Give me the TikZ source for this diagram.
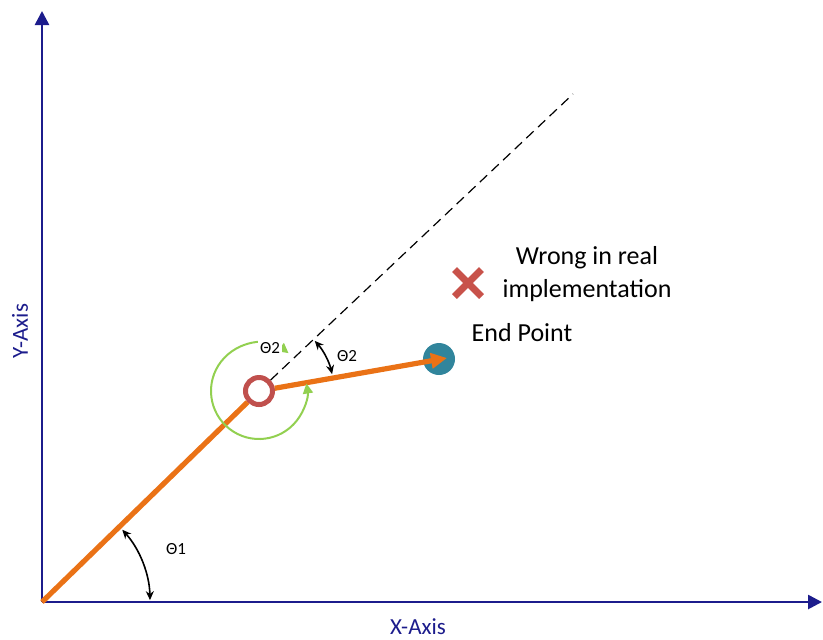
\documentclass[tikz,border=0pt]{standalone}
\usepackage{fontspec}
\setmainfont{Carlito}
\usetikzlibrary{arrows.meta,shapes.misc}
\definecolor{axisblue}{RGB}{28,28,140}
\definecolor{linkorange}{RGB}{234,114,22}
\definecolor{jointred}{RGB}{192,80,77}
\definecolor{endteal}{RGB}{49,133,156}
\definecolor{turngreen}{RGB}{146,208,80}
\definecolor{crossred}{RGB}{200,82,74}
\begin{document}
\begin{tikzpicture}[x=0.5pt, y=-0.5pt,
    axis/.style={draw=axisblue, line width=1.3pt, -{Triangle[length=7pt, width=7pt]}},
    link/.style={draw=linkorange, line width=2.6pt},
    angarc/.style={black, line width=0.8pt, {Stealth[length=4.5pt, width=4pt]}-{Stealth[length=4.5pt, width=4pt]}},
    turnarc/.style={turngreen, line width=1pt, {Triangle[length=5pt, width=5pt]}-{Triangle[length=5pt, width=5pt]}}]
    \useasboundingbox (0,0) rectangle (823,639);
    \coordinate (O) at (42,602);
    \coordinate (xtip) at (822,602);
    \coordinate (ytip) at (42,11);
    \coordinate (D) at (573,94);
    \coordinate (tip2) at (447,358);
    \node[circle, draw=jointred, fill=white, line width=2.5pt, minimum size=13.5pt, inner sep=0pt] (J) at (259,391) {};
    \node[circle, fill=endteal, minimum size=16pt, inner sep=0pt] (E) at (439,359) {};
    % axes
    \draw[axis] (O) -- (xtip);
    \draw[axis] (O) -- (ytip);
    \node[axisblue, font=\fontsize{11.5}{14}\selectfont] (xlab) at (418,627) {X-Axis};
    \node[axisblue, font=\fontsize{11.5}{14}\selectfont, rotate=90] (ylab) at (20,331) {Y-Axis};
    % arm
    \draw[black, line width=0.6pt, dash pattern=on 5pt off 3pt] (J) -- (D);
    \draw[link] (O) -- (J);
    \draw[link, -{Triangle[length=8pt, width=7.5pt]}] (J) -- (tip2);
    % angles
    \draw[angarc] ([shift={(-42:108)}]O) arc[start angle=-42, end angle=-1, radius=108];
    \draw[angarc] ([shift={(-42:75)}]J.center) arc[start angle=-42, end angle=-13, radius=75];
    \draw[turnarc] ([shift={(-52:48)}]J.center) arc[start angle=-52, end angle=-369, radius=48];
    \node[font=\fontsize{8.5}{10}\selectfont] (t1) at (176,549) {Θ1};
    \node[font=\fontsize{8.5}{10}\selectfont] (t2) at (347,356) {Θ2};
    \node[font=\fontsize{8.5}{10}\selectfont, fill=white, inner sep=1pt] (t2in) at (270,348) {Θ2};
    % labels
    \node[cross out, draw=crossred, line width=3.5pt, minimum size=10pt, inner sep=0pt] (wrong) at (468,283) {};
    \node[font=\fontsize{13}{16.5}\selectfont, align=center] (wrongtxt) at (587,274) {Wrong in real\\implementation};
    \node[font=\fontsize{13}{16.5}\selectfont] (endtxt) at (522,333) {End Point};
\end{tikzpicture}
\end{document}
